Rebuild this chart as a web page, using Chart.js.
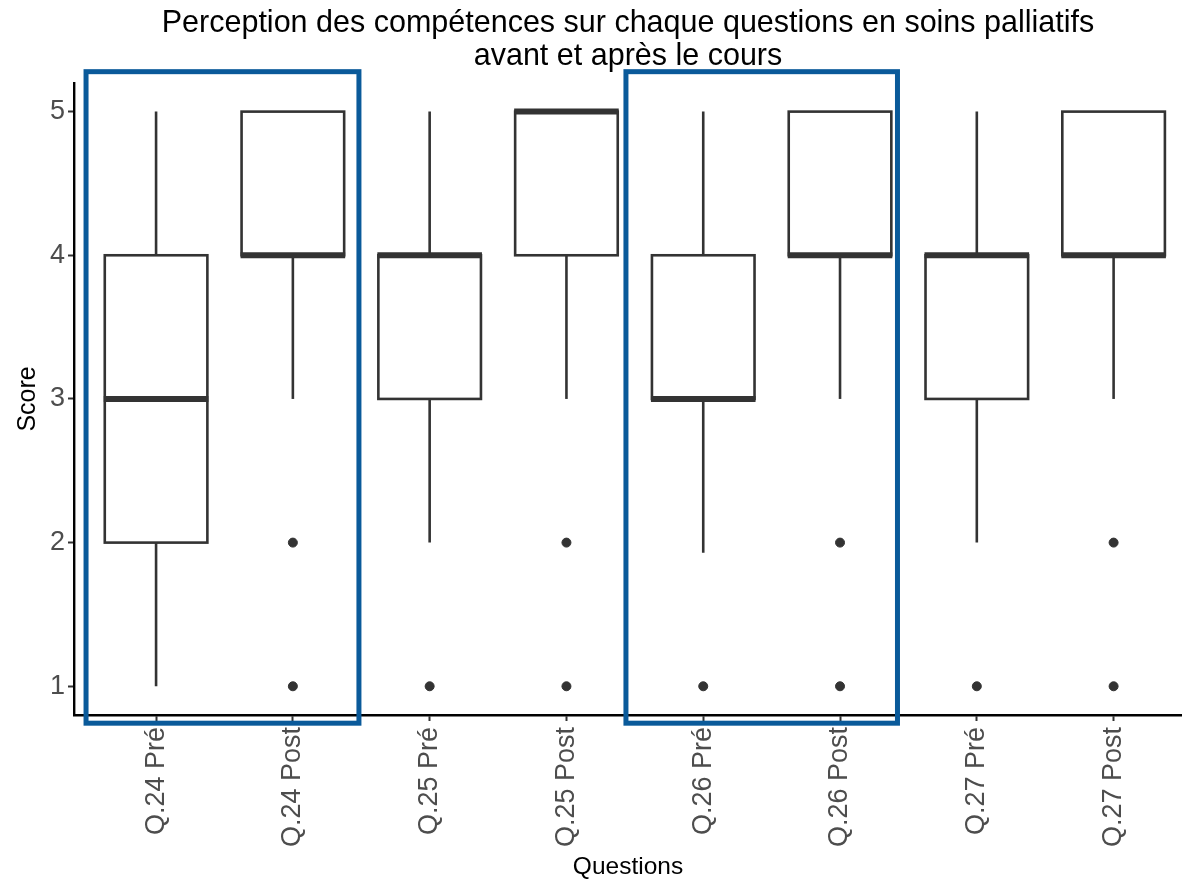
<!DOCTYPE html>
<html><head><meta charset="utf-8">
<script src="https://cdn.jsdelivr.net/npm/chart.js@4/dist/chart.umd.min.js"></script>
<style>html,body{margin:0;padding:0;background:#fff;overflow:hidden}canvas{display:block}</style>
</head><body>
<canvas id="c" width="1182" height="879" style="width:1182px;height:879px"></canvas>
<script>
const categories = ["Q.24 Pré","Q.24 Post","Q.25 Pré","Q.25 Post","Q.26 Pré","Q.26 Post","Q.27 Pré","Q.27 Post"];
const whiskerLow = [1, 3, 2, 3, 1.93, 3, 2, 3];
const q1 =         [2, 4, 3, 4, 3, 4, 3, 4];
const median =     [3, 4, 4, 5, 3, 4, 4, 4];
const q3 =         [4, 5, 4, 5, 4, 5, 4, 5];
const whiskerHigh =[5, 5, 5, 5, 5, 5, 5, 5];
const outliers = [[], [2,1], [1], [2,1], [1], [2,1], [1], [2,1]];
const yTicks = [1,2,3,4,5];
// highlighted groups (in category units / score units)
const highlightX = [[0.488, 2.483],[4.435, 6.42]];
const highlightY = [0.743, 5.278];

const outlierPoints = [];
outliers.forEach((arr,i)=>arr.forEach(v=>outlierPoints.push({x:i+1,y:v})));

const FONT = '"Liberation Sans", Arial, sans-serif';

const boxPlugin = {
  id:'boxes',
  beforeDatasetsDraw(chart){
    const {ctx, scales:{x,y}} = chart;
    const w = 0.75;
    ctx.save();
    ctx.strokeStyle = '#333333';
    ctx.lineCap = 'butt';
    for(let i=0;i<categories.length;i++){
      const c = x.getPixelForValue(i+1);
      const l = x.getPixelForValue(i+1-w/2), r = x.getPixelForValue(i+1+w/2);
      const pq1 = y.getPixelForValue(q1[i]), pq3 = y.getPixelForValue(q3[i]);
      ctx.lineWidth = 2.6;
      ctx.beginPath();
      ctx.moveTo(c, y.getPixelForValue(whiskerHigh[i])); ctx.lineTo(c, pq3);
      ctx.moveTo(c, pq1); ctx.lineTo(c, y.getPixelForValue(whiskerLow[i]));
      ctx.stroke();
      ctx.fillStyle='#ffffff';
      ctx.fillRect(l, pq3, r-l, pq1-pq3);
      ctx.strokeRect(l, pq3, r-l, pq1-pq3);
      ctx.lineWidth = 6;
      const pm = y.getPixelForValue(median[i]);
      ctx.beginPath(); ctx.moveTo(l-1, pm); ctx.lineTo(r+1, pm); ctx.stroke();
    }
    ctx.restore();
  },
  afterDraw(chart){
    const {ctx, scales:{x,y}} = chart;
    ctx.save();
    ctx.strokeStyle = '#0a5a9a';
    ctx.lineWidth = 5;
    highlightX.forEach(([a,b])=>{
      const l = x.getPixelForValue(a), r = x.getPixelForValue(b);
      const t = y.getPixelForValue(highlightY[1]), bt = y.getPixelForValue(highlightY[0]);
      ctx.strokeRect(l, t, r-l, bt-t);
    });
    ctx.restore();
  }
};

new Chart(document.getElementById('c'), {
  type:'scatter',
  data:{datasets:[{data:outlierPoints, backgroundColor:'#333333', borderColor:'#333333', pointRadius:4.5, pointHoverRadius:4.5}]},
  options:{
    responsive:false, animation:false,
    layout:{autoPadding:false, padding:{left:0,right:0,top:0,bottom:0}},
    plugins:{
      legend:{display:false}, tooltip:{enabled:false},
      title:{display:true, fullSize:false, text:["Perception des compétences sur chaque questions en soins palliatifs","avant et après le cours"],
        color:'#000', font:{family:FONT, size:30.5, weight:'normal', lineHeight:1.08},
        padding:{top:7.5,bottom:9.5}}
    },
    scales:{
      x:{type:'linear', min:0.4, max:8.5,
        afterFit(s){s.height=164; s.paddingLeft=0; s.paddingRight=0;},
        afterBuildTicks(s){s.ticks = categories.map((_,i)=>({value:i+1}));},
        grid:{display:true, drawOnChartArea:false, drawTicks:true, tickLength:6, tickColor:'#333', tickWidth:2, color:'#333'},
        border:{display:true, color:'#000', width:2.4},
        ticks:{autoSkip:false, minRotation:90, maxRotation:90, padding:6, color:'#4d4d4d',
          font:{family:FONT, size:27},
          callback:(v)=>categories[Math.round(v)-1]},
        title:{display:true, text:'Questions', color:'#000', padding:{top:0,bottom:-3},
          font:{family:FONT, size:24.5}}
      },
      y:{type:'linear', min:0.8, max:5.2,
        afterFit(s){s.width=74; s.paddingTop=0; s.paddingBottom=0;},
        afterBuildTicks(s){s.ticks = yTicks.map(v=>({value:v}));},
        grid:{display:true, drawOnChartArea:false, drawTicks:true, tickLength:6, tickColor:'#333', tickWidth:2, color:'#333'},
        border:{display:true, color:'#000', width:2.4},
        ticks:{padding:3, color:'#4d4d4d', font:{family:FONT, size:27},
          callback:(v)=>String(v)},
        title:{display:true, text:'Score', color:'#000', padding:{top:13,bottom:0},
          font:{family:FONT, size:25}}
      }
    }
  },
  plugins:[boxPlugin]
});
</script>
</body></html>
